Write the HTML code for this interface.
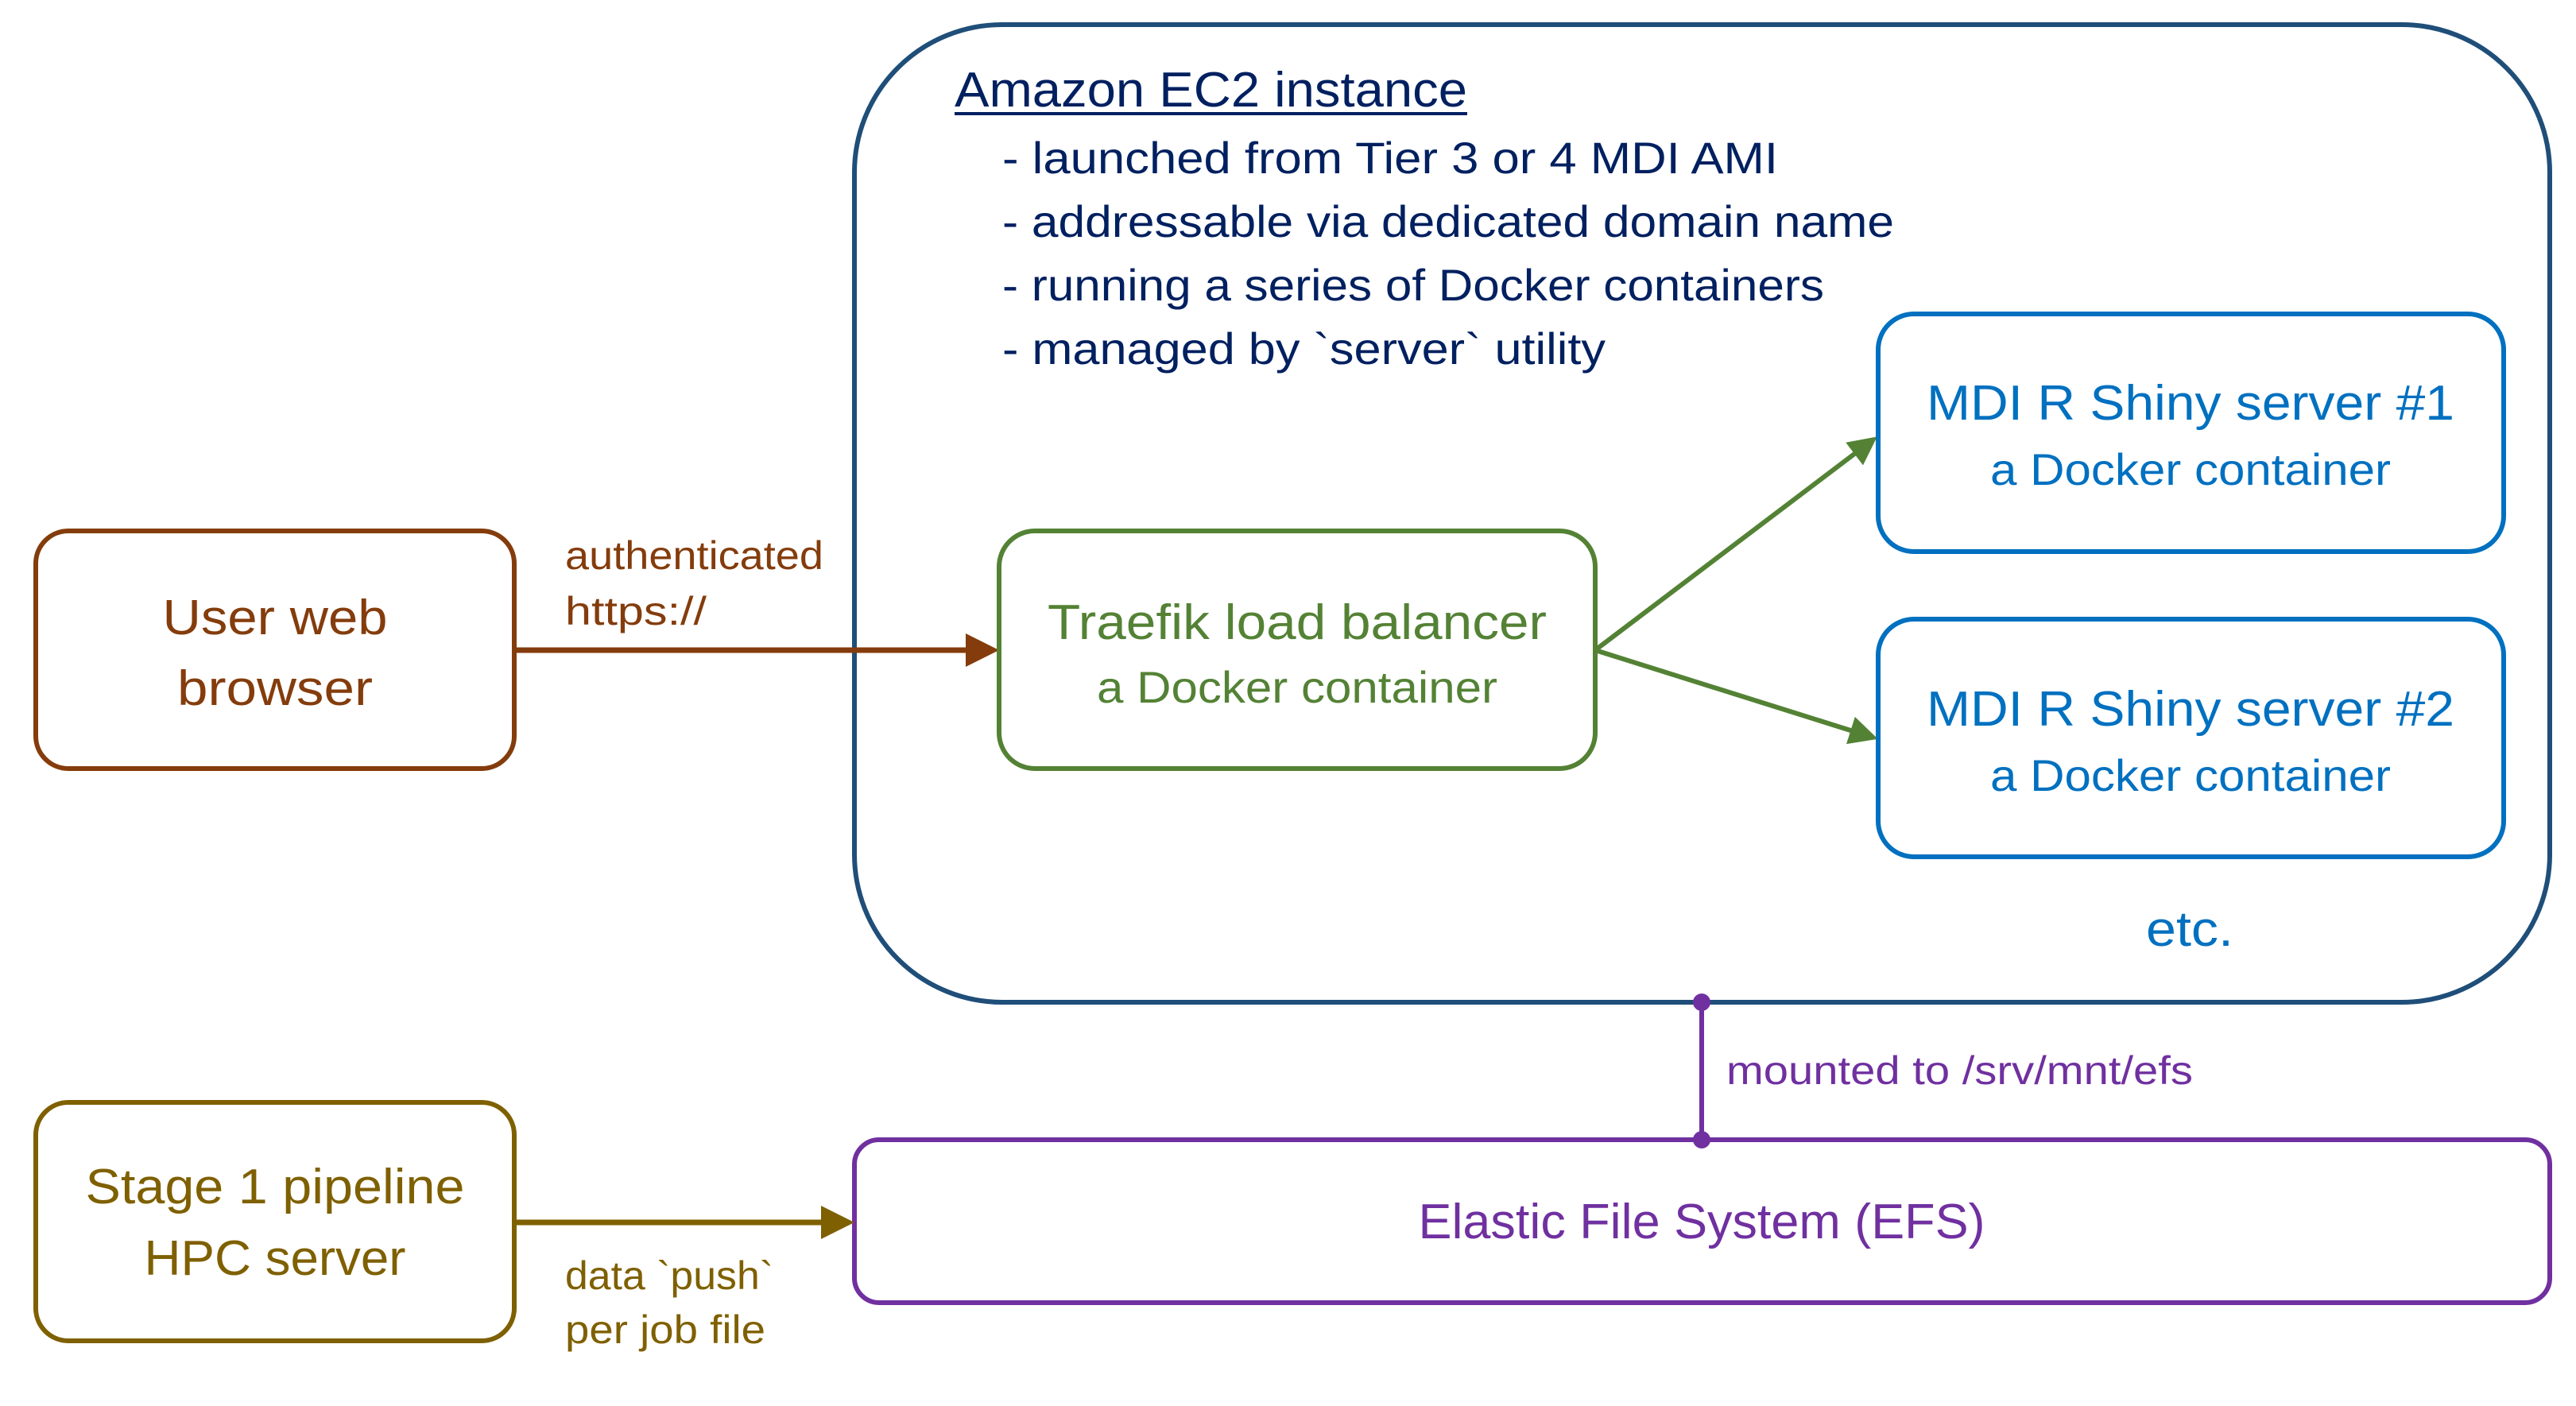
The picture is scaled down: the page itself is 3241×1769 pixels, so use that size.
<!DOCTYPE html>
<html><head><meta charset="utf-8"><style>html,body{margin:0;padding:0;background:#fff}svg{display:block}text{font-family:"Liberation Sans",sans-serif}</style></head>
<body>
<svg width="3241" height="1769" viewBox="0 0 3241 1769" xmlns="http://www.w3.org/2000/svg">
<defs>
<marker id="ab" markerWidth="6" markerHeight="6" refX="5" refY="3" orient="auto" markerUnits="strokeWidth"><path d="M0,0 L6,3 L0,6 Z" fill="#843c0c"/></marker>
<marker id="ag" markerWidth="6" markerHeight="6" refX="5" refY="3" orient="auto" markerUnits="strokeWidth"><path d="M0,0 L6,3 L0,6 Z" fill="#548235"/></marker>
<marker id="ao" markerWidth="6" markerHeight="6" refX="5" refY="3" orient="auto" markerUnits="strokeWidth"><path d="M0,0 L6,3 L0,6 Z" fill="#7f6000"/></marker>
</defs>
<!-- EC2 -->
<rect x="1075" y="31" width="2133" height="1230" rx="186" fill="none" stroke="#1f4e79" stroke-width="6"/>
<text x="1201" y="134" font-size="62" fill="#002060" textLength="645" lengthAdjust="spacingAndGlyphs">Amazon EC2 instance</text>
<line x1="1201" y1="143" x2="1846" y2="143" stroke="#002060" stroke-width="4"/>
<g font-size="56" fill="#002060">
<text x="1261" y="218" textLength="976" lengthAdjust="spacingAndGlyphs">- launched from Tier 3 or 4 MDI AMI</text>
<text x="1261" y="298" textLength="1122" lengthAdjust="spacingAndGlyphs">- addressable via dedicated domain name</text>
<text x="1261" y="378" textLength="1034" lengthAdjust="spacingAndGlyphs">- running a series of Docker containers</text>
<text x="1261" y="458" textLength="759" lengthAdjust="spacingAndGlyphs">- managed by `server` utility</text>
</g>
<!-- user browser -->
<rect x="45" y="668" width="602" height="299" rx="41" fill="none" stroke="#843c0c" stroke-width="6"/>
<g fill="#843c0c" text-anchor="middle" font-size="62">
<text x="346" y="798" textLength="283" lengthAdjust="spacingAndGlyphs">User web</text>
<text x="346" y="887" textLength="246" lengthAdjust="spacingAndGlyphs">browser</text>
</g>
<g fill="#843c0c" font-size="50">
<text x="711" y="716" textLength="325" lengthAdjust="spacingAndGlyphs">authenticated</text>
<text x="711" y="786" textLength="178" lengthAdjust="spacingAndGlyphs">https://</text>
</g>
<line x1="647" y1="818" x2="1250" y2="818" stroke="#843c0c" stroke-width="7" marker-end="url(#ab)"/>
<!-- traefik -->
<rect x="1257" y="668" width="750" height="299" rx="45" fill="none" stroke="#548235" stroke-width="6"/>
<g fill="#548235" text-anchor="middle">
<text x="1632" y="804" font-size="62" textLength="628" lengthAdjust="spacingAndGlyphs">Traefik load balancer</text>
<text x="1632" y="884" font-size="56" textLength="504" lengthAdjust="spacingAndGlyphs">a Docker container</text>
</g>
<line x1="2007" y1="818" x2="2357" y2="553" stroke="#548235" stroke-width="6" marker-end="url(#ag)"/>
<line x1="2007" y1="818" x2="2357" y2="928" stroke="#548235" stroke-width="6" marker-end="url(#ag)"/>
<!-- shiny -->
<rect x="2363" y="395" width="787" height="299" rx="45" fill="none" stroke="#0070c0" stroke-width="6"/>
<rect x="2363" y="779" width="787" height="299" rx="45" fill="none" stroke="#0070c0" stroke-width="6"/>
<g fill="#0070c0" text-anchor="middle">
<text x="2756" y="528" font-size="62" textLength="664" lengthAdjust="spacingAndGlyphs">MDI R Shiny server #1</text>
<text x="2756" y="610" font-size="56" textLength="504" lengthAdjust="spacingAndGlyphs">a Docker container</text>
<text x="2756" y="913" font-size="62" textLength="664" lengthAdjust="spacingAndGlyphs">MDI R Shiny server #2</text>
<text x="2756" y="995" font-size="56" textLength="504" lengthAdjust="spacingAndGlyphs">a Docker container</text>
<text x="2755" y="1190" font-size="62" textLength="110" lengthAdjust="spacingAndGlyphs">etc.</text>
</g>
<!-- mount -->
<line x1="2141" y1="1261" x2="2141" y2="1434" stroke="#7030a0" stroke-width="6"/>
<circle cx="2141" cy="1261" r="11" fill="#7030a0"/>
<circle cx="2141" cy="1434" r="11" fill="#7030a0"/>
<text x="2172" y="1364" font-size="50" fill="#7030a0" textLength="587" lengthAdjust="spacingAndGlyphs">mounted to /srv/mnt/efs</text>
<rect x="1075" y="1434" width="2133" height="205" rx="31" fill="none" stroke="#7030a0" stroke-width="6"/>
<text x="2141" y="1558" font-size="62" fill="#7030a0" text-anchor="middle" textLength="713" lengthAdjust="spacingAndGlyphs">Elastic File System (EFS)</text>
<!-- stage 1 -->
<rect x="45" y="1387" width="602" height="300" rx="41" fill="none" stroke="#7f6000" stroke-width="6"/>
<g fill="#7f6000" text-anchor="middle" font-size="62">
<text x="346" y="1514" textLength="477" lengthAdjust="spacingAndGlyphs">Stage 1 pipeline</text>
<text x="346" y="1604" textLength="329" lengthAdjust="spacingAndGlyphs">HPC server</text>
</g>
<line x1="647" y1="1538" x2="1068" y2="1538" stroke="#7f6000" stroke-width="7" marker-end="url(#ao)"/>
<g fill="#7f6000" font-size="50">
<text x="711" y="1622" textLength="262" lengthAdjust="spacingAndGlyphs">data `push`</text>
<text x="711" y="1690" textLength="252" lengthAdjust="spacingAndGlyphs">per job file</text>
</g>
</svg>
</body></html>
